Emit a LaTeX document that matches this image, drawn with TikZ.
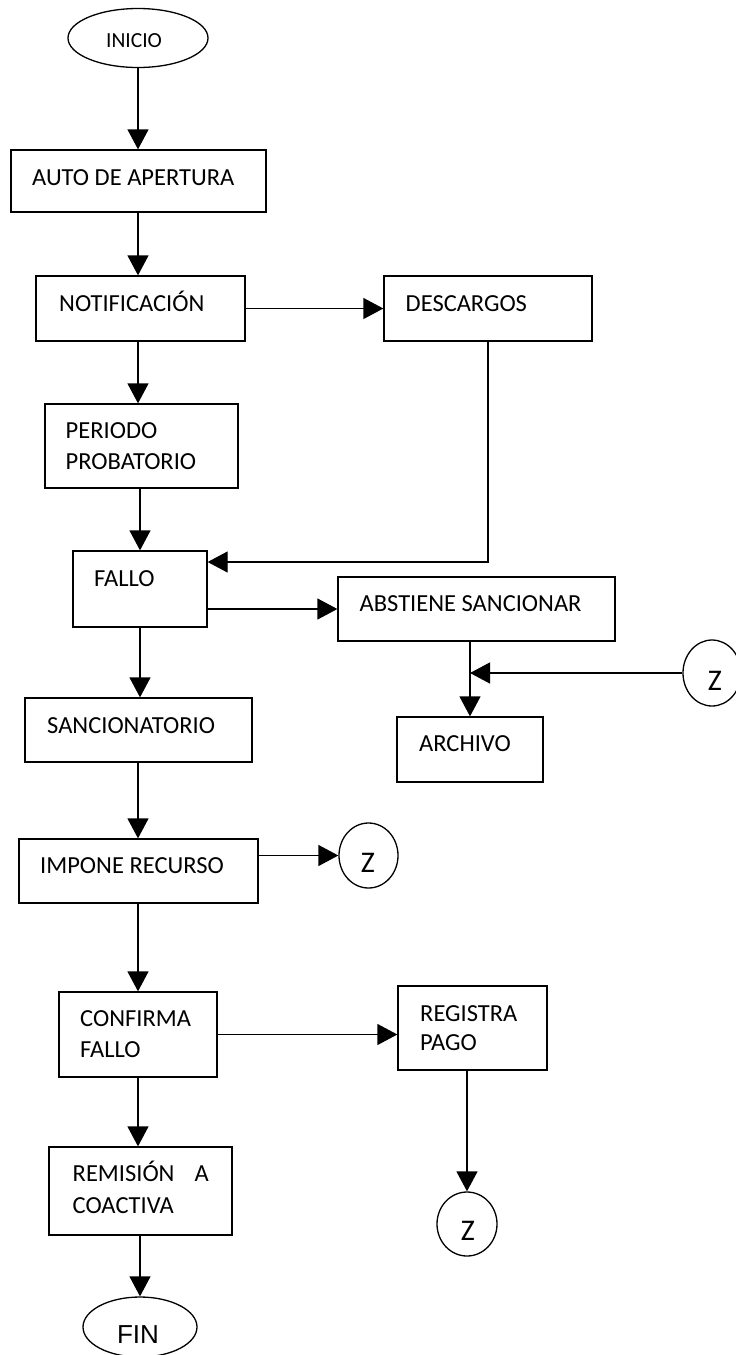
\documentclass[tikz,border=0pt]{standalone}
\usepackage{fontspec}
\setmainfont{Carlito}
\newfontfamily\finfont{Liberation Sans}
\usetikzlibrary{arrows.meta, shapes.geometric}
\begin{document}
\begin{tikzpicture}[x=1pt, y=-1pt,
  flow/.style={line width=1.3pt, -{Triangle[length=20pt,width=21pt]}},
  stepbox/.style={draw, line width=1.3pt, rectangle, inner sep=0pt},
  terminal/.style={draw, line width=1.3pt, ellipse, inner sep=0pt},
  linkmark/.style={draw, line width=1.3pt, ellipse, inner sep=0pt,
                   minimum width=59pt, minimum height=65pt},
  lbl/.style={anchor=base west, inner sep=0pt, font=\fontsize{24.5}{30}\selectfont},
  ztext/.style={anchor=base, inner sep=0pt, font=\fontsize{30}{36}\selectfont},
]
\useasboundingbox (0,0) rectangle (736,1355);

% start / end terminals
\node[terminal, minimum width=140pt, minimum height=59pt] (inicio) at (138,38) {};
\node[anchor=base, inner sep=0pt, font=\fontsize{21.5}{26}\selectfont] (t-inicio) at (134,47) {INICIO};
\node[terminal, minimum width=114pt, minimum height=60pt] (fin) at (140,1327) {};
\node[anchor=base, inner sep=0pt, font=\finfont\fontsize{26}{31}\selectfont] (t-fin) at (138,1343) {FIN};

% process steps
\node[stepbox, minimum width=255pt, minimum height=62pt] (auto) at (138.5,181) {};
\node[lbl] (t-auto) at (32,185) {AUTO DE APERTURA};

\node[stepbox, minimum width=209pt, minimum height=65pt] (notif) at (140.5,308.5) {};
\node[lbl] (t-notif) at (59,311) {NOTIFICACIÓN};

\node[stepbox, minimum width=208pt, minimum height=65pt] (desc) at (488,308.5) {};
\node[lbl] (t-desc) at (405.5,311) {DESCARGOS};

\node[stepbox, minimum width=193pt, minimum height=84pt] (periodo) at (141.5,446) {};
\node[lbl] (t-periodo1) at (65.5,438) {PERIODO};
\node[lbl] (t-periodo2) at (65.5,469) {PROBATORIO};

\node[stepbox, minimum width=134pt, minimum height=76pt] (fallo) at (140,589) {};
\node[lbl] (t-fallo) at (94,586) {FALLO};

\node[stepbox, minimum width=277pt, minimum height=64pt] (abst) at (476.5,609) {};
\node[lbl] (t-abst) at (359.5,611) {ABSTIENE SANCIONAR};

\node[stepbox, minimum width=227pt, minimum height=64pt] (sanc) at (138.5,730) {};
\node[lbl] (t-sanc) at (47,733) {SANCIONATORIO};

\node[stepbox, minimum width=146pt, minimum height=65pt] (arch) at (470,749.5) {};
\node[lbl] (t-arch) at (419,751) {ARCHIVO};

\node[stepbox, minimum width=239pt, minimum height=64pt] (impone) at (138.5,871) {};
\node[lbl] (t-impone) at (40,873) {IMPONE RECURSO};

\node[stepbox, minimum width=158pt, minimum height=85pt] (confirma) at (138,1034.5) {};
\node[lbl] (t-confirma1) at (80,1026) {CONFIRMA};
\node[lbl] (t-confirma2) at (80,1057) {FALLO};

\node[stepbox, minimum width=149pt, minimum height=84pt] (registra) at (472.5,1028) {};
\node[lbl] (t-registra1) at (420,1021) {REGISTRA};
\node[lbl] (t-registra2) at (420,1050) {PAGO};

\node[stepbox, minimum width=183pt, minimum height=88pt] (remision) at (140.5,1191) {};
\node[lbl] (t-remision1) at (72.5,1181) {\makebox[136pt][s]{REMISIÓN A}};
\node[lbl] (t-remision2) at (72.5,1213) {COACTIVA};

% off-page link marks
\node[linkmark, minimum width=58pt, minimum height=66pt] (zR) at (712,673) {};
\node[ztext] (t-zR) at (715,690) {Z};
\node[linkmark] (zM) at (368.5,855.5) {};
\node[ztext] (t-zM) at (368,872) {Z};
\node[linkmark, minimum width=60pt, minimum height=64pt] (zB) at (467,1224) {};
\node[ztext] (t-zB) at (468,1240) {Z};

% connectors
\draw[flow] (inicio.south) -- (inicio.south |- auto.north);
\draw[flow] (auto.south -| inicio.south) -- (notif.north -| inicio.south);
\draw[flow] (notif.east) -- (desc.west);
\draw[flow] (notif.south -| inicio.south) -- (periodo.north -| inicio.south);
\draw[flow] (periodo.south -| fallo.north) -- (fallo.north);
\draw[flow] (desc.south) |- ([yshift=27pt]fallo.east);
\draw[flow] (fallo.east |- abst.west) -- (abst.west);
\draw[flow] (fallo.south) -- (fallo.south |- sanc.north);
\draw[flow] (abst.south -| arch.north) -- (arch.north);
\draw[flow] (zR.west) -- (zR.west -| arch.north);
\draw[flow] (sanc.south -| inicio.south) -- (impone.north -| inicio.south);
\draw[flow] (impone.east |- zM.west) -- (zM.west);
\draw[flow] (impone.south -| inicio.south) -- (confirma.north -| inicio.south);
\draw[flow] (confirma.east) -- (registra.west |- confirma.east);
\draw[flow] (registra.south -| zB.north) -- (zB.north);
\draw[flow] (confirma.south -| inicio.south) -- (remision.north -| inicio.south);
\draw[flow] (remision.south -| fin.north) -- (fin.north);
\end{tikzpicture}
\end{document}
